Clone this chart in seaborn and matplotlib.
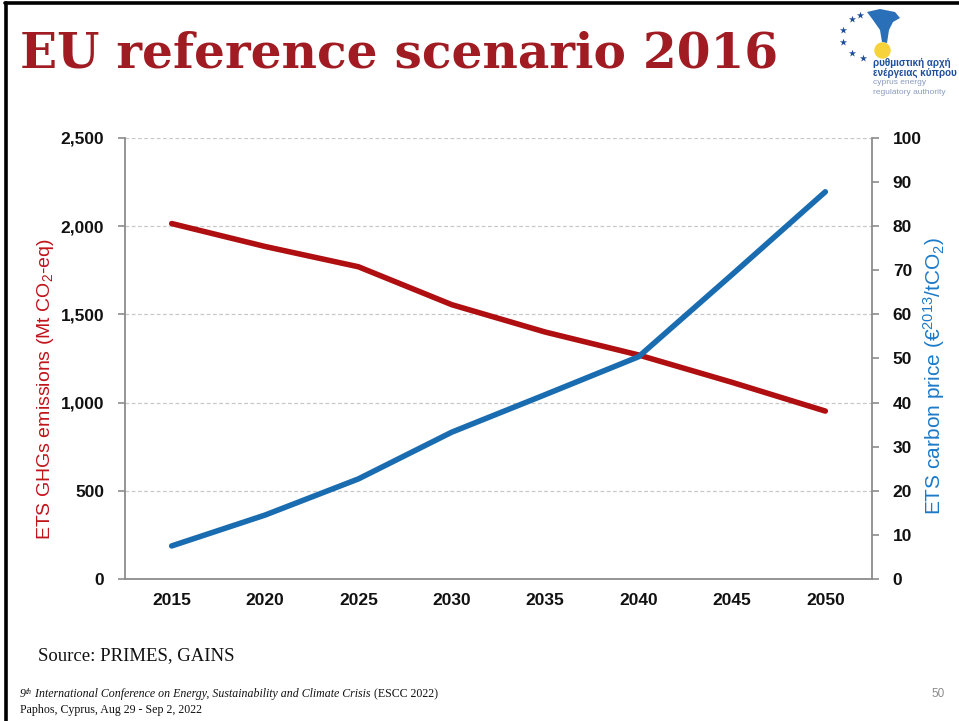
import matplotlib
matplotlib.use("Agg")
import matplotlib.pyplot as plt
import matplotlib.ticker as mticker
from matplotlib.lines import Line2D
import seaborn as sns
import pandas as pd

# EU reference scenario 2016 (PRIMES / GAINS)
years = ["2015", "2020", "2025", "2030", "2035", "2040", "2045", "2050"]
emissions = [2015, 1885, 1770, 1555, 1400, 1270, 1115, 952]       # Mt CO2-eq
carbon_price = [7.5, 14.5, 22.7, 33.3, 41.8, 50.4, 69.0, 87.8]   # EUR2013 / tCO2

left_ticks = [0, 500, 1000, 1500, 2000, 2500]
right_ticks = [0, 10, 20, 30, 40, 50, 60, 70, 80, 90, 100]

RED = "#B00F12"
BLUE = "#1A6CB0"
TITLE_RED = "#A01C22"
AXIS_GREY = "#8C8C8C"

sns.set_theme(style="white")
plt.rcParams["font.family"] = ["Liberation Sans", "DejaVu Sans"]
plt.rcParams["mathtext.fontset"] = "custom"
plt.rcParams["mathtext.rm"] = "Liberation Sans"
plt.rcParams["mathtext.it"] = "Liberation Sans:italic"

df = pd.DataFrame({"year": years, "emissions": emissions, "price": carbon_price})

fig = plt.figure(figsize=(9.59, 7.21), dpi=100)
fig.patch.set_facecolor("white")

ax = fig.add_axes([125 / 959, 1 - 579 / 721, (872 - 125) / 959, (579 - 138) / 721])
ax2 = ax.twinx()

sns.lineplot(data=df, x="year", y="emissions", ax=ax, color=RED, lw=4.0,
             sort=False, solid_capstyle="round")
sns.lineplot(data=df, x="year", y="price", ax=ax2, color=BLUE, lw=4.0,
             sort=False, solid_capstyle="round")

tick_font = dict(labelsize=12.5, labelcolor="#111111")

# x axis: categories centred between boundary ticks
ax.set_xlim(-0.5, len(years) - 0.5)
ax.xaxis.set_major_locator(mticker.FixedLocator(range(len(years))))
ax.set_xticklabels(years, fontweight="bold")
ax.xaxis.set_minor_locator(mticker.FixedLocator([i + 0.5 for i in range(len(years) - 1)]))
ax.tick_params(axis="x", which="major", length=0, pad=10, **tick_font)
ax.tick_params(axis="x", which="minor", length=5, width=1.2, color=AXIS_GREY, direction="out")

# left axis: emissions
ax.set_ylim(0, 2500)
ax.set_yticks(left_ticks)
ax.yaxis.set_major_formatter(mticker.FuncFormatter(lambda v, p: f"{int(v):,}"))
ax.tick_params(axis="y", length=5, width=1.2, color=AXIS_GREY, direction="out",
               pad=10, left=True, **tick_font)
ax.grid(axis="y", color="#C8C8C8", lw=0.9, ls=(0, (3, 2)))
ax.set_axisbelow(True)

# right axis: carbon price
ax2.set_ylim(0, 100)
ax2.set_yticks(right_ticks)
ax2.tick_params(axis="y", length=5, width=1.2, color=AXIS_GREY, direction="out",
                pad=10, right=True, **tick_font)
ax2.grid(False)
for lab in ax.get_yticklabels() + ax2.get_yticklabels():
    lab.set_fontweight("bold")

ax.spines["top"].set_visible(False)
ax.spines["right"].set_visible(False)
for side in ("top", "left", "bottom"):
    ax2.spines[side].set_visible(False)
for s in (ax.spines["left"], ax.spines["bottom"], ax2.spines["right"]):
    s.set_color(AXIS_GREY)
    s.set_linewidth(1.3)

ax.set_xlabel("")
ax.set_ylabel("ETS GHGs emissions (Mt CO$_2$-eq)", color="#C0141A", fontsize=14)
ax.yaxis.set_label_coords(-0.092, 0.43)
ax2.set_ylabel("ETS carbon price (€$^{2013}$/tCO$_2$)", color="#1C7AC8", fontsize=15)
ax2.yaxis.set_label_coords(1.066, 0.46)

# slide title
fig.text(20 / 959, 1 - 68 / 721, "EU reference scenario 2016", color=TITLE_RED,
         fontsize=35, fontweight="bold", family=["DejaVu Serif", "Liberation Serif"],
         va="baseline", ha="left")

# slide frame (left and top edges)
fig.add_artist(Line2D([6 / 959, 6 / 959], [0, 1 - 3 / 721], transform=fig.transFigure,
                      color="black", lw=2.6))
fig.add_artist(Line2D([5 / 959, 1], [1 - 3 / 721, 1 - 3 / 721], transform=fig.transFigure,
                      color="black", lw=2.6))

# regulator logo
logo = fig.add_axes([835 / 959, 1 - 100 / 721, 124 / 959, 92 / 721])
logo.set_xlim(0, 124)
logo.set_ylim(92, 0)
logo.axis("off")
star_x = [25, 17, 8, 8, 17, 28]
star_y = [7, 11, 22, 34, 45, 50]
logo.scatter(star_x, star_y, marker="*", s=30, color="#1F4E9C", linewidths=0)
logo.fill([32, 45, 60, 65, 58, 54, 52, 47, 45, 38],
          [4, 1, 4, 10, 14, 22, 35, 34, 22, 12], color="#2A70B8", lw=0)
logo.scatter([47], [42], s=140, color="#F6D33A", linewidths=0, zorder=3)
logo.text(38, 55, "ρυθμιστική αρχή", fontsize=7, color="#1F4E9C", fontweight="bold", va="center")
logo.text(38, 65, "ενέργειας κύπρου", fontsize=7, color="#1F4E9C", fontweight="bold", va="center")
logo.text(38, 75, "cyprus energy", fontsize=6, color="#8A9BC0", va="center")
logo.text(38, 84, "regulatory authority", fontsize=6, color="#8A9BC0", va="center")

# source note
fig.text(38 / 959, 1 - 660 / 721, "Source: PRIMES, GAINS", fontsize=13.5,
         family=["Liberation Serif", "DejaVu Serif"], color="#111111", va="baseline")

# conference footer
fig.canvas.draw()
renderer = fig.canvas.get_renderer()
serif = ["Liberation Serif", "DejaVu Serif"]
x0 = 20 / 959
yb = 1 - 697 / 721
pieces = [("9", "italic", 8.6, 0), ("th", "italic", 5.5, 3 / 721),
          (" International Conference on Energy, Sustainability and Climate Crisis ", "italic", 8.6, 0),
          ("(ESCC 2022)", "normal", 8.6, 0)]
x = x0
for txt, style, size, dy in pieces:
    t = fig.text(x, yb + dy, txt, fontsize=size, style=style, family=serif,
                 color="#111111", va="baseline")
    bb = t.get_window_extent(renderer)
    x += bb.width / fig.bbox.width
fig.text(x0, 1 - 713 / 721, "Paphos, Cyprus, Aug 29 - Sep 2, 2022", fontsize=8.6,
         family=serif, color="#111111", va="baseline")
fig.text(945 / 959, 1 - 697 / 721, "50", fontsize=8.5, color="#8C8C8C", ha="right", va="baseline")

fig.savefig("out.png", dpi=100, facecolor="white")
